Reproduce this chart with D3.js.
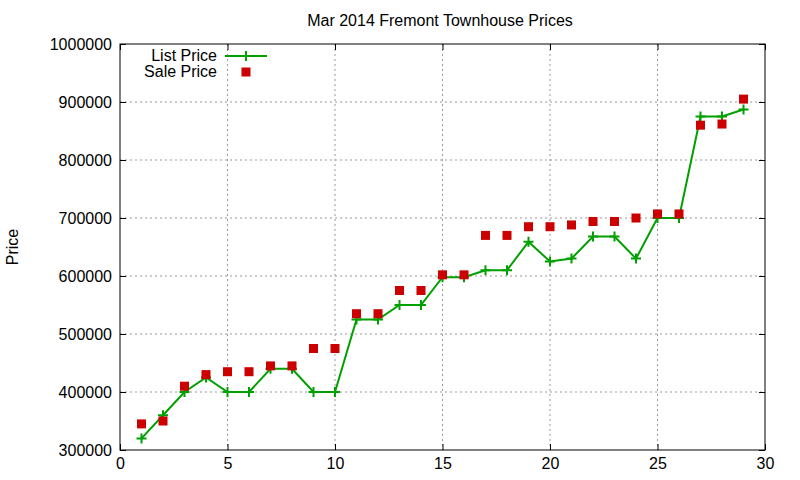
<!DOCTYPE html>
<html><head><meta charset="utf-8">
<script src="https://cdn.jsdelivr.net/npm/d3@7"></script>
<style>body{margin:0;background:#fff}text{font-family:"Liberation Sans",Arial,sans-serif}</style>
</head><body><svg id="c" width="800" height="480"></svg>
<script>
const days=[1,2,3,4,5,6,7,8,9,10,11,12,13,14,15,16,17,18,19,20,21,22,23,24,25,26,27,28,29];
const listPrice=[320000,360000,400000,425000,400000,400000,440000,440000,400000,400000,525000,525000,550000,550000,598000,598000,610000,610000,659000,625000,630000,668000,668000,630000,700000,700000,875000,875000,887000];
const salePrice=[345000,350000,410000,430000,435000,435000,445000,445000,475000,475000,535000,535000,575000,575000,602000,602000,670000,670000,685000,685000,688000,694000,694000,700000,707000,707000,860000,862000,905000];
const xTicks=[0,5,10,15,20,25,30];
const yTicks=[300000,400000,500000,600000,700000,800000,900000,1000000];
const L=120,R=765,T=44,B=450,FS=16;
const svg=d3.select("#c");
const x=d3.scaleLinear().domain([0,30]).range([L,R]);
const y=d3.scaleLinear().domain([300000,1000000]).range([B,T]);
svg.append("g").selectAll("line").data(xTicks.slice(1,-1)).join("line")
 .attr("x1",d=>x(d)).attr("x2",d=>x(d)).attr("y1",T).attr("y2",B)
 .attr("stroke","#999").attr("stroke-dasharray","2,3");
svg.append("g").selectAll("line").data(yTicks.slice(1,-1)).join("line")
 .attr("y1",d=>y(d)).attr("y2",d=>y(d)).attr("x1",L).attr("x2",R)
 .attr("stroke","#999").attr("stroke-dasharray","2,3");
const fmt=d3.format("d");
svg.append("g").attr("transform",`translate(0,${B})`).call(d3.axisBottom(x).tickValues(xTicks).tickSize(-6).tickPadding(8).tickFormat(fmt));
svg.append("g").attr("transform",`translate(0,${T})`).call(d3.axisTop(x).tickValues(xTicks).tickSize(-6).tickFormat(""));
svg.append("g").attr("transform",`translate(${L},0)`).call(d3.axisLeft(y).tickValues(yTicks).tickSize(-6).tickPadding(8).tickFormat(fmt));
svg.append("g").attr("transform",`translate(${R},0)`).call(d3.axisRight(y).tickValues(yTicks).tickSize(-6).tickFormat(""));
svg.selectAll(".domain").remove();
svg.selectAll(".tick line").attr("stroke","#000");
svg.selectAll(".tick text").attr("font-size",FS).attr("fill","#000").style("font-family","Liberation Sans, Arial, sans-serif");
svg.append("rect").attr("x",L).attr("y",T).attr("width",R-L).attr("height",B-T).attr("fill","none").attr("stroke","#000");
const g="#00a000";
svg.append("path").datum(days.map((d,i)=>[d,listPrice[i]])).attr("fill","none").attr("stroke",g).attr("stroke-width",2)
 .attr("d",d3.line().x(d=>x(d[0])).y(d=>y(d[1])));
const plus=(sel,cx,cy)=>{sel.append("path").attr("d",`M${cx-5},${cy}H${cx+5}M${cx},${cy-5}V${cy+5}`).attr("stroke",g).attr("stroke-width",2);};
days.forEach((d,i)=>plus(svg,x(d),y(listPrice[i])));
svg.append("g").selectAll("rect").data(days).join("rect")
 .attr("x",(d)=>x(d)-4.5).attr("y",(d,i)=>y(salePrice[i])-4.5).attr("width",9).attr("height",9).attr("fill","#cc0000");
svg.append("text").attr("x",440).attr("y",26).attr("text-anchor","middle").attr("font-size",FS).text("Mar 2014 Fremont Townhouse Prices");
svg.append("text").attr("transform","translate(18,247) rotate(-90)").attr("text-anchor","middle").attr("font-size",FS).text("Price");
svg.append("text").attr("x",217).attr("y",61).attr("text-anchor","end").attr("font-size",FS).text("List Price");
svg.append("line").attr("x1",225).attr("x2",267).attr("y1",56).attr("y2",56).attr("stroke",g).attr("stroke-width",2);
plus(svg,246,56);
svg.append("text").attr("x",217).attr("y",77).attr("text-anchor","end").attr("font-size",FS).text("Sale Price");
svg.append("rect").attr("x",241.5).attr("y",67.5).attr("width",9).attr("height",9).attr("fill","#cc0000");
</script></body></html>
